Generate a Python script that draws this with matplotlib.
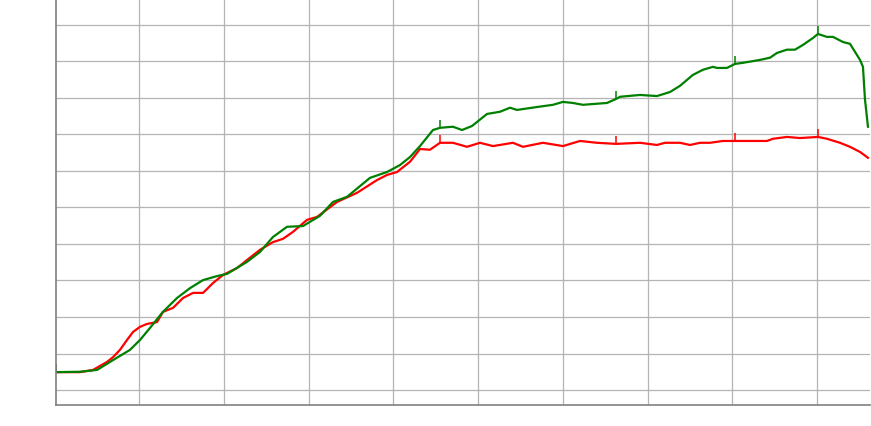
import numpy as np
import matplotlib
matplotlib.use("Agg")
import matplotlib.pyplot as plt

# green series (x in grid units, y in grid units)
green_x = [0.00, 0.283, 0.484, 0.673, 0.873, 0.991, 1.109, 1.262, 1.428, 1.581,
           1.735, 1.900, 2.018, 2.254, 2.407, 2.560, 2.726, 2.914, 3.115, 3.268,
           3.434, 3.705, 3.906, 4.059, 4.177, 4.295, 4.448, 4.531, 4.684, 4.791,
           4.909, 5.086, 5.239, 5.357, 5.440, 5.676, 5.864, 5.982, 6.100, 6.218,
           6.383, 6.501, 6.608, 6.655, 6.891, 7.091, 7.245, 7.363, 7.516, 7.634,
           7.752, 7.799, 7.917, 8.012, 8.106, 8.307, 8.425, 8.507, 8.625, 8.720,
           8.814, 8.932, 8.991, 9.097, 9.168, 9.286, 9.369, 9.487, 9.522, 9.546,
           9.581]
green_y = [0.49, 0.50, 0.55, 0.82, 1.10, 1.37, 1.70, 2.14, 2.52, 2.79,
           3.01, 3.12, 3.18, 3.51, 3.78, 4.19, 4.47, 4.49, 4.77, 5.15,
           5.29, 5.81, 5.97, 6.16, 6.38, 6.68, 7.12, 7.18, 7.21, 7.12,
           7.23, 7.56, 7.62, 7.73, 7.67, 7.75, 7.81, 7.89, 7.86, 7.81,
           7.84, 7.86, 7.97, 8.03, 8.08, 8.05, 8.16, 8.33, 8.63, 8.77,
           8.85, 8.82, 8.82, 8.93, 8.96, 9.04, 9.10, 9.23, 9.32, 9.32,
           9.45, 9.64, 9.75, 9.67, 9.67, 9.53, 9.48, 9.04, 8.85, 7.95,
           7.21]

# red series
red_x = [0.00, 0.283, 0.437, 0.602, 0.673, 0.755, 0.838, 0.909, 0.991, 1.074,
         1.192, 1.262, 1.381, 1.499, 1.617, 1.735, 1.853, 1.970, 2.136, 2.254,
         2.407, 2.560, 2.678, 2.796, 2.962, 3.080, 3.316, 3.552, 3.788, 3.906,
         4.024, 4.177, 4.295, 4.413, 4.531, 4.684, 4.850, 5.003, 5.156, 5.392,
         5.510, 5.746, 5.982, 6.183, 6.383, 6.608, 6.891, 7.091, 7.186, 7.363,
         7.481, 7.599, 7.717, 7.870, 8.012, 8.389, 8.460, 8.625, 8.779, 8.991,
         9.097, 9.251, 9.369, 9.487, 9.581]
red_y = [0.49, 0.49, 0.55, 0.77, 0.90, 1.10, 1.37, 1.59, 1.73, 1.81,
         1.86, 2.14, 2.25, 2.52, 2.66, 2.66, 2.93, 3.15, 3.34, 3.56,
         3.84, 4.05, 4.14, 4.33, 4.66, 4.74, 5.15, 5.40, 5.75, 5.89,
         5.97, 6.25, 6.60, 6.58, 6.77, 6.77, 6.66, 6.77, 6.68, 6.77,
         6.66, 6.77, 6.68, 6.82, 6.77, 6.74, 6.77, 6.71, 6.77, 6.77,
         6.71, 6.77, 6.77, 6.82, 6.82, 6.82, 6.88, 6.93, 6.90, 6.93,
         6.88, 6.77, 6.66, 6.52, 6.36]

# x positions carrying the small tick markers
green_marks = [0.00, 4.531, 6.608, 8.012, 8.991]
red_marks = [0.00, 4.531, 6.608, 8.012, 8.991]

# vertical grid positions
grid_x = [0.98, 1.98, 2.98, 3.98, 4.98, 5.98, 6.98, 7.98, 8.98]


def mark_idx(xs, marks):
    xs = np.asarray(xs)
    return [int(np.argmin(np.abs(xs - m))) for m in marks]


fig = plt.figure(figsize=(8.71, 4.26), dpi=100)
ax = fig.add_axes([56 / 871, 21 / 426, (870 - 56) / 871, 405 / 426])

ax.plot(red_x, red_y, color="#ff0000", lw=1.6, marker=2, ms=6, mew=1.1,
        markevery=mark_idx(red_x, red_marks))
ax.plot(green_x, green_y, color="#008000", lw=1.6, marker=2, ms=6, mew=1.1,
        markevery=mark_idx(green_x, green_marks))

ax.set_xlim(0, 9.605)
ax.set_ylim(-0.41, 10.68)
ax.set_xticks(grid_x)
ax.set_yticks(np.arange(0, 11, 1.0))
ax.grid(True, color="#b4b4b4", lw=0.9)
ax.set_axisbelow(True)
ax.tick_params(length=0, labelleft=False, labelbottom=False)

for side in ("top", "right"):
    ax.spines[side].set_visible(False)
for side in ("left", "bottom"):
    ax.spines[side].set_color("#808080")
    ax.spines[side].set_linewidth(1.2)

fig.savefig("out.png", dpi=100)
